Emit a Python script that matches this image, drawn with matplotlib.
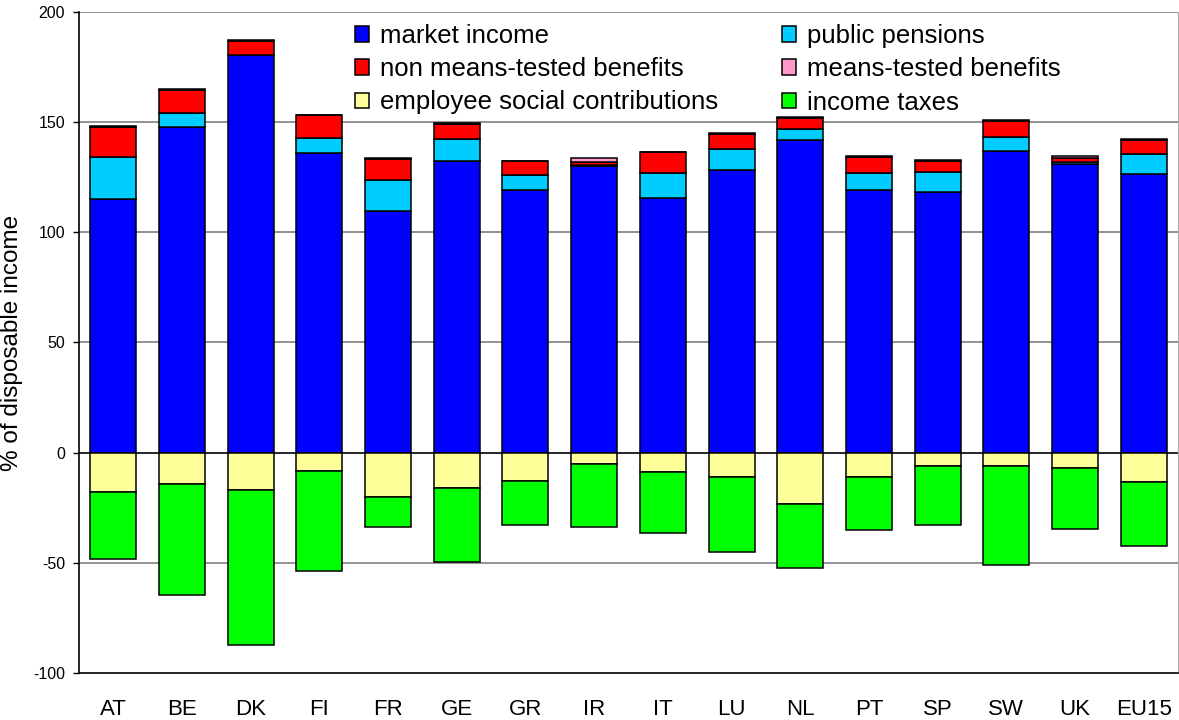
import numpy as np
import matplotlib.pyplot as plt
from matplotlib.patches import Patch

plt.rcParams['font.family'] = ['Liberation Sans', 'DejaVu Sans']
plt.rcParams['axes.unicode_minus'] = False

countries = ['AT', 'BE', 'DK', 'FI', 'FR', 'GE', 'GR', 'IR', 'IT', 'LU',
             'NL', 'PT', 'SP', 'SW', 'UK', 'EU15']

# positive components (% of disposable income)
market_income = [115.1, 147.7, 180.5, 136.2, 109.8, 132.6, 119.0, 130.3,
                 115.8, 128.3, 142.0, 119.3, 118.2, 137.0, 130.9, 126.5]
public_pensions = [19.3, 6.3, 0.0, 6.5, 14.0, 9.9, 7.1, 0.4,
                   11.3, 9.4, 4.8, 7.5, 9.2, 6.4, 1.2, 9.0]
non_means_tested = [13.6, 10.7, 6.5, 10.4, 9.4, 6.7, 6.3, 1.4,
                    9.3, 7.0, 5.0, 7.6, 5.0, 7.2, 1.8, 6.5]
means_tested = [0.3, 0.4, 0.4, 0.3, 0.4, 0.4, 0.0, 1.5,
                0.0, 0.5, 0.4, 0.3, 0.3, 0.3, 0.8, 0.4]

# negative components
employee_contrib = [-18.0, -14.4, -16.8, -8.5, -20.3, -16.2, -13.0, -5.0,
                    -8.9, -11.2, -23.4, -11.2, -6.2, -6.0, -6.8, -13.5]
income_taxes = [-30.1, -50.3, -70.6, -45.2, -13.4, -33.5, -19.8, -28.7,
                -27.7, -34.0, -28.8, -23.7, -26.6, -44.8, -28.0, -29.0]

labels = ['market income', 'public pensions', 'non means-tested benefits',
          'means-tested benefits', 'employee social contributions', 'income taxes']
colors = ['#0000FF', '#00CCFF', '#FF0000', '#FF99CC', '#FFFF99', '#00FF00']

fig = plt.figure(figsize=(11.79, 7.2), dpi=100)
ax = fig.add_axes([79 / 1179, 47 / 720, 1099 / 1179, 661 / 720])

x = np.arange(len(countries))
w = 0.67
kw = dict(width=w, edgecolor='black', linewidth=1.1, zorder=3)

bottom = np.zeros(len(countries))
for vals, c in zip([market_income, public_pensions, non_means_tested, means_tested], colors[:4]):
    ax.bar(x, vals, bottom=bottom, color=c, **kw)
    bottom += np.array(vals)

bottom = np.zeros(len(countries))
for vals, c in zip([employee_contrib, income_taxes], colors[4:]):
    ax.bar(x, vals, bottom=bottom, color=c, **kw)
    bottom += np.array(vals)

ax.set_xlim(-0.5, len(countries) - 0.5)
ax.set_ylim(-100, 200)
ax.set_yticks(np.arange(-100, 201, 50))
ax.set_xticks(x)
ax.set_xticklabels(countries, fontsize=16)
ax.tick_params(axis='x', length=0, pad=19)
ax.tick_params(axis='y', length=4, width=1, labelsize=11.5, pad=6)

for yv in [-50, 50, 100, 150, 200]:
    ax.axhline(yv, color='#808080', linewidth=1.2, zorder=1)
ax.axhline(0, color='black', linewidth=1.2, zorder=1)

ax.spines['top'].set_visible(False)
ax.spines['right'].set_color('#aaaaaa')
ax.spines['left'].set_linewidth(1.2)
ax.spines['bottom'].set_linewidth(1.2)

ax.set_ylabel('% of disposable income', fontsize=17.5)
ax.yaxis.set_label_coords(-0.051, 0.5)

order = [0, 2, 4, 1, 3, 5]
handles = [Patch(facecolor=colors[i], edgecolor='black', linewidth=1.1) for i in order]
fig.legend(handles, [labels[i] for i in order], ncol=2, frameon=False,
           loc='upper left', bbox_to_anchor=(355 / 1179, 1 - 24 / 720),
           fontsize=18.5, handlelength=0.55, handleheight=0.55,
           handletextpad=0.42, columnspacing=2.5, labelspacing=0.36,
           borderpad=0, borderaxespad=0)

fig.savefig('out.png', dpi=100)
